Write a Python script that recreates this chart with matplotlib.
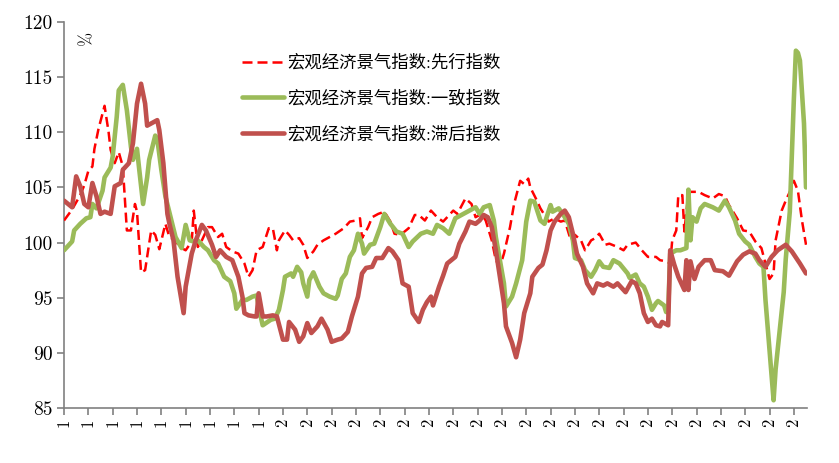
import matplotlib
matplotlib.use("Agg")
import matplotlib.pyplot as plt
import numpy as np

# monthly index: 0 = 1991-01
START_YEAR = 1991
lead = [(0, 102.0), (4, 103.0), (8, 104.3), (10, 105.2), (12, 106.5), (14, 106.9), (15, 108.5), (17, 110.3),
        (20, 112.4), (22, 110.0), (23, 108.4), (25, 107.2), (27, 108.2), (29, 106.9), (31, 101.1), (33, 101.1),
        (35, 103.5), (36, 102.8), (38, 97.3), (40, 97.5), (43, 101.1), (45, 100.7), (47, 99.4), (50, 101.7),
        (52, 100.5), (55, 100.2), (57, 99.6), (60, 99.3), (63, 100.1), (64, 102.9), (66, 99.6), (68, 100.2),
        (71, 101.4), (73, 101.4), (76, 100.5), (78, 100.8), (80, 99.6), (83, 99.2), (86, 99.0), (89, 98.1),
        (91, 96.9), (93, 97.5), (95, 99.3), (98, 99.6), (101, 101.3), (103, 101.3), (105, 99.3), (106, 100.2),
        (109, 101.1), (111, 100.7), (113, 100.2), (116, 100.4), (118, 99.8), (120, 98.6), (123, 99.2),
        (125, 99.8), (128, 100.2), (131, 100.5), (134, 100.8), (138, 101.3), (141, 101.9), (144, 102.0),
        (146, 102.2), (147, 100.4), (150, 101.4), (152, 102.3), (155, 102.6), (158, 102.8), (161, 101.9),
        (163, 100.8), (166, 100.7), (170, 101.3), (173, 102.5), (175, 102.5), (178, 102.0), (181, 102.9),
        (184, 102.3), (187, 101.9), (190, 102.5), (192, 102.9), (194, 102.6), (198, 104.0), (201, 103.5),
        (203, 102.3), (206, 102.6), (208, 102.0), (211, 100.2), (213, 98.4), (215, 97.8), (217, 99.0),
        (220, 101.4), (222, 103.5), (225, 105.6), (227, 105.3), (229, 105.8), (230, 105.0), (233, 103.9),
        (235, 103.1), (239, 101.9), (242, 102.2), (245, 101.9), (247, 102.0), (250, 100.2), (252, 100.7),
        (255, 100.2), (257, 99.3), (260, 100.2), (262, 100.4), (264, 100.8), (267, 99.8), (269, 99.9),
        (273, 99.6), (276, 99.3), (278, 99.8), (282, 100.0), (285, 99.3), (288, 98.7), (292, 98.7), (294, 98.4),
        (297, 98.3), (299, 98.1), (300, 100.2), (302, 101.1), (303, 104.3), (305, 104.3), (306, 101.0),
        (308, 104.6), (310, 104.6), (313, 104.6), (316, 104.3), (320, 104.0), (323, 104.4), (326, 104.2),
        (328, 103.4), (332, 102.2), (335, 101.1), (338, 101.0), (341, 100.1), (344, 99.5), (346, 98.1),
        (348, 96.7), (350, 97.2), (351, 100.2), (354, 102.9), (356, 103.8), (359, 105.0), (360, 105.6),
        (362, 104.7), (364, 102.0), (366, 99.8)]

coincident = [(0, 99.3), (4, 100.1), (5, 101.1), (8, 101.7), (11, 102.2), (13, 102.3), (14, 103.5), (16, 103.1),
              (19, 104.7), (20, 105.9), (23, 106.8), (24, 107.8), (26, 111.4), (27, 113.8), (29, 114.3),
              (31, 112.0), (33, 108.7), (34, 107.5), (36, 108.5), (37, 106.8), (39, 103.5), (41, 105.9),
              (42, 107.5), (45, 109.7), (46, 109.4), (48, 106.6), (50, 104.2), (53, 102.0), (55, 100.5),
              (58, 99.5), (60, 101.6), (62, 100.2), (64, 100.1), (66, 100.2), (69, 99.6), (71, 99.3), (74, 98.4),
              (76, 98.1), (79, 96.9), (82, 96.5), (84, 95.4), (85, 94.0), (88, 94.8), (90, 94.8), (93, 95.1),
              (95, 95.2), (97, 93.3), (98, 92.5), (102, 93.0), (104, 93.1), (106, 93.9), (108, 95.7), (109, 96.9),
              (112, 97.2), (113, 96.9), (115, 97.8), (117, 97.3), (118, 96.3), (120, 95.1), (121, 96.6),
              (123, 97.3), (126, 96.0), (128, 95.4), (131, 95.1), (134, 94.9), (135, 95.2), (137, 96.7),
              (139, 97.2), (141, 98.7), (143, 99.3), (145, 100.8), (147, 99.9), (148, 99.0), (151, 99.8),
              (153, 99.9), (156, 101.4), (158, 102.6), (161, 101.7), (164, 101.0), (167, 100.8), (170, 99.6),
              (172, 100.1), (176, 100.8), (179, 101.0), (182, 100.8), (184, 101.6), (187, 101.3), (190, 100.8),
              (193, 102.2), (196, 102.5), (200, 102.9), (203, 103.2), (205, 102.6), (207, 103.2), (210, 103.4),
              (212, 102.0), (213, 100.5), (215, 98.4), (217, 96.3), (218, 94.2), (221, 95.1), (223, 96.3),
              (226, 98.4), (228, 101.9), (230, 103.8), (232, 103.7), (235, 102.0), (237, 101.7), (240, 103.4),
              (241, 102.8), (244, 103.1), (246, 102.6), (249, 101.7), (251, 100.2), (252, 98.6), (255, 98.4),
              (257, 97.5), (260, 96.9), (262, 97.5), (264, 98.3), (266, 97.8), (269, 97.7), (271, 98.4),
              (274, 98.1), (278, 97.2), (279, 96.8), (282, 97.1), (284, 96.3), (286, 96.0), (288, 95.1),
              (290, 93.9), (292, 94.5), (293, 94.7), (296, 94.3), (297, 93.7), (298, 93.7), (299, 99.0),
              (302, 99.3), (304, 99.3), (307, 99.5), (308, 104.8), (309, 100.2), (310, 102.3), (312, 101.9),
              (314, 103.1), (316, 103.5), (320, 103.2), (323, 102.9), (326, 103.8), (328, 103.2), (331, 102.0),
              (333, 100.8), (336, 100.1), (338, 99.8), (341, 98.7), (343, 98.1), (345, 97.8), (346, 94.8),
              (348, 90.3), (350, 85.7), (351, 88.5), (353, 92.0), (355, 95.5), (356, 98.5), (358, 102.8),
              (359, 108.0), (360, 113.0), (361, 117.4), (362, 117.2), (363, 116.5), (365, 110.8), (366, 105.0)]

lagging = [(0, 103.8), (4, 103.2), (6, 106.0), (8, 105.1), (10, 103.5), (12, 103.2), (14, 105.4), (16, 104.2),
           (18, 102.6), (20, 102.8), (23, 102.6), (25, 105.1), (28, 105.4), (29, 106.6), (32, 107.2), (34, 109.0),
           (36, 112.6), (38, 114.4), (40, 112.6), (41, 110.6), (44, 110.9), (46, 111.1), (47, 110.2), (49, 107.2),
           (51, 102.6), (52, 101.7), (54, 100.2), (56, 96.9), (59, 93.6), (60, 96.0), (63, 99.0), (65, 100.2),
           (68, 101.6), (70, 101.1), (73, 99.8), (75, 98.7), (77, 99.3), (80, 98.7), (83, 98.4), (86, 96.9),
           (88, 95.1), (89, 93.6), (91, 93.4), (94, 93.3), (95, 93.3), (96, 95.4), (98, 93.3), (100, 93.3),
           (103, 93.4), (105, 93.3), (108, 91.2), (110, 91.2), (111, 92.8), (114, 92.1), (116, 91.0), (118, 91.5),
           (120, 92.7), (122, 91.8), (125, 92.4), (127, 93.1), (130, 92.1), (132, 91.0), (135, 91.2), (137, 91.3),
           (140, 91.9), (142, 93.3), (145, 95.1), (147, 97.2), (149, 97.7), (152, 97.8), (154, 98.6), (157, 98.6),
           (160, 99.5), (162, 99.2), (165, 98.4), (167, 96.3), (170, 96.0), (172, 93.6), (175, 92.8), (177, 93.9),
           (179, 94.6), (181, 95.1), (182, 94.3), (185, 96.0), (187, 97.0), (189, 98.1), (191, 98.4), (193, 98.7),
           (195, 99.9), (198, 101.0), (200, 101.9), (203, 101.7), (205, 102.0), (207, 102.5), (209, 102.3),
           (211, 101.4), (213, 99.3), (215, 96.9), (217, 94.5), (218, 92.4), (221, 90.9), (223, 89.6), (225, 91.2),
           (227, 93.6), (230, 95.4), (231, 96.9), (234, 97.7), (236, 98.0), (238, 99.3), (240, 101.1), (242, 101.9),
           (245, 102.6), (247, 102.9), (249, 102.3), (251, 100.8), (253, 99.0), (256, 97.8), (258, 96.3),
           (261, 95.4), (263, 96.3), (266, 96.1), (268, 96.3), (271, 96.0), (273, 96.3), (277, 95.5), (280, 96.5),
           (282, 96.3), (284, 95.4), (286, 93.6), (288, 92.8), (290, 93.1), (292, 92.5), (294, 92.4), (295, 92.8),
           (298, 92.5), (299, 99.3), (301, 98.0), (303, 96.9), (306, 95.7), (307, 98.4), (308, 95.7), (309, 98.3),
           (311, 96.7), (313, 97.8), (316, 98.4), (319, 98.4), (321, 97.5), (325, 97.4), (328, 97.0), (332, 98.3),
           (335, 98.9), (338, 99.2), (341, 99.0), (343, 98.4), (346, 97.8), (349, 98.7), (352, 99.3), (356, 99.8),
           (359, 99.2), (363, 98.1), (366, 97.2)]

labels = ["宏观经济景气指数:先行指数", "宏观经济景气指数:一致指数", "宏观经济景气指数:滞后指数"]
years = list(range(START_YEAR, 2022))
yticks = [85, 90, 95, 100, 105, 110, 115, 120]

plt.rcParams["font.family"] = ["cmr10", "Noto Sans CJK SC", "DejaVu Sans"]
plt.rcParams["axes.unicode_minus"] = False

fig = plt.figure(figsize=(8.39, 4.63), dpi=100)
ax = fig.add_axes([0.0763, 0.1188, 0.8856, 0.8337])

m, v = zip(*lead)
ax.plot(m, v, color="#FF0000", lw=1.8, dashes=(4, 2), label=labels[0], zorder=3)
m, v = zip(*coincident)
ax.plot(m, v, color="#9BBB59", lw=3.3, solid_capstyle="round", label=labels[1], zorder=4)
m, v = zip(*lagging)
ax.plot(m, v, color="#C0504D", lw=3.3, solid_capstyle="round", label=labels[2], zorder=5)

ax.set_ylim(85, 120)
ax.set_xlim(0, 366.5)
ax.set_yticks(yticks)
ax.set_yticklabels([str(t) for t in yticks], fontsize=14)
ax.set_xticks([12 * i for i in range(len(years))])
ax.set_xticklabels([str(y)[0] for y in years], rotation=90, fontsize=12)

for s in ["top", "right"]:
    ax.spines[s].set_visible(False)
for s in ["left", "bottom"]:
    ax.spines[s].set_color("#808080")
    ax.spines[s].set_linewidth(1.2)
ax.tick_params(axis="both", colors="#808080", labelcolor="black", width=1.2, length=5)
ax.tick_params(axis="y", pad=3)
ax.tick_params(axis="x", pad=3)

ax.text(0.022, 0.955, "%", transform=ax.transAxes, rotation=-90, fontsize=12,
        ha="center", va="center")

leg = ax.legend(loc="upper left", bbox_to_anchor=(0.23, 0.935), frameon=False,
                fontsize=12.5, handlelength=2.4, handletextpad=0.2, labelspacing=1.1,
                borderaxespad=0)

fig.savefig("out.png", dpi=100)
